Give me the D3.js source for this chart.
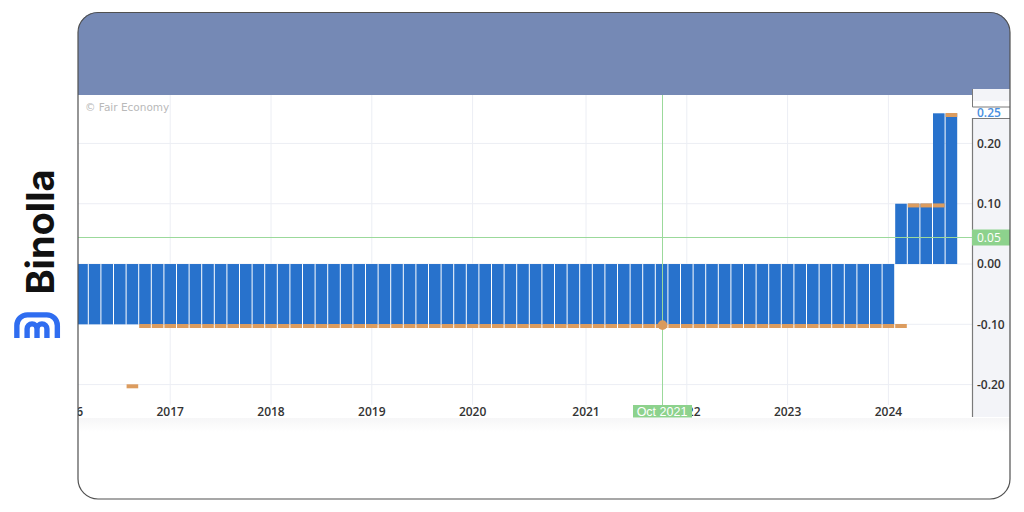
<!DOCTYPE html>
<html><head><meta charset="utf-8">
<script src="https://cdn.jsdelivr.net/npm/d3@7/dist/d3.min.js"></script>
<style>html,body{margin:0;padding:0;background:#fff;}svg{display:block;}</style>
</head><body>
<svg id="c" width="1024" height="512"></svg>
<script>
// Bank rate decisions (one bar per policy meeting)
const meetings = [
  "Jan 2016","Mar 2016","Apr 2016","Jun 2016","Jul 2016","Sep 2016","Nov 2016","Dec 2016",
  "Jan 2017","Mar 2017","Apr 2017","Jun 2017","Jul 2017","Sep 2017","Oct 2017","Dec 2017",
  "Jan 2018","Mar 2018","Apr 2018","Jun 2018","Jul 2018","Sep 2018","Oct 2018","Dec 2018",
  "Jan 2019","Mar 2019","Apr 2019","Jun 2019","Jul 2019","Sep 2019","Oct 2019","Dec 2019",
  "Jan 2020","Mar 2020","Apr 2020","May 2020","Jun 2020","Jul 2020","Sep 2020","Oct 2020","Dec 2020",
  "Jan 2021","Mar 2021","Apr 2021","Jun 2021","Jul 2021","Sep 2021","Oct 2021","Dec 2021",
  "Jan 2022","Mar 2022","Apr 2022","Jun 2022","Jul 2022","Sep 2022","Oct 2022","Dec 2022",
  "Jan 2023","Mar 2023","Apr 2023","Jun 2023","Jul 2023","Sep 2023","Oct 2023","Dec 2023",
  "Jan 2024","Mar 2024","Apr 2024","Jun 2024","Jul 2024","Sep 2024"
];
const actualValues = [
  -0.10,-0.10,-0.10,-0.10,-0.10,-0.10,-0.10,-0.10,
  -0.10,-0.10,-0.10,-0.10,-0.10,-0.10,-0.10,-0.10,
  -0.10,-0.10,-0.10,-0.10,-0.10,-0.10,-0.10,-0.10,
  -0.10,-0.10,-0.10,-0.10,-0.10,-0.10,-0.10,-0.10,
  -0.10,-0.10,-0.10,-0.10,-0.10,-0.10,-0.10,-0.10,-0.10,
  -0.10,-0.10,-0.10,-0.10,-0.10,-0.10,-0.10,-0.10,
  -0.10,-0.10,-0.10,-0.10,-0.10,-0.10,-0.10,-0.10,
  -0.10,-0.10,-0.10,-0.10,-0.10,-0.10,-0.10,-0.10,
  -0.10, 0.10, 0.10, 0.10, 0.25, 0.25
];
const forecastValues = [
  null,null,null,null,null,-0.20,-0.10,-0.10,
  -0.10,-0.10,-0.10,-0.10,-0.10,-0.10,-0.10,-0.10,
  -0.10,-0.10,-0.10,-0.10,-0.10,-0.10,-0.10,-0.10,
  -0.10,-0.10,-0.10,-0.10,-0.10,-0.10,-0.10,-0.10,
  -0.10,-0.10,-0.10,-0.10,-0.10,-0.10,-0.10,-0.10,-0.10,
  -0.10,-0.10,-0.10,-0.10,-0.10,-0.10,-0.10,-0.10,
  -0.10,-0.10,-0.10,-0.10,-0.10,-0.10,-0.10,-0.10,
  -0.10,-0.10,-0.10,-0.10,-0.10,-0.10,-0.10,-0.10,
  -0.10,-0.10, 0.10, 0.10, 0.10, 0.25
];
const yTickValues = [-0.20,-0.10,0.00,0.10,0.20];
const latestValue = 0.25;
const crosshairMeeting = "Oct 2021";
const crosshairValue = 0.045;
const crosshairLabel = "0.05";
const sourceLabel = "© Fair Economy";
const brandName = "Binolla";

const svg = d3.select("#c");
const L = 78, R = 972, T = 95, B = 405, CARD_R = 1010, CARD_B = 499;
const FONT = "'DejaVu Sans', Verdana, sans-serif";
const AXFONT = "'Open Sans', 'DejaVu Sans', sans-serif";
const fmt = v => d3.format(".2f")(v).replace("\u2212","-");

const defs = svg.append("defs");
defs.append("clipPath").attr("id","card").append("rect")
  .attr("x",L).attr("y",12).attr("width",CARD_R-L).attr("height",CARD_B-12).attr("rx",20);
defs.append("clipPath").attr("id","plot").append("rect")
  .attr("x",L).attr("y",T).attr("width",R-L).attr("height",B-T+14);
const g1 = defs.append("linearGradient").attr("id","shade").attr("x1",0).attr("y1",0).attr("x2",0).attr("y2",1);
g1.append("stop").attr("offset","0%").attr("stop-color","#f6f6f7");
g1.append("stop").attr("offset","100%").attr("stop-color","#ffffff");

const card = svg.append("g").attr("clip-path","url(#card)");
card.append("rect").attr("x",L).attr("y",12).attr("width",CARD_R-L).attr("height",CARD_B-12).attr("fill","#fff");
card.append("rect").attr("x",L).attr("y",12).attr("width",CARD_R-L).attr("height",T-12).attr("fill","#7589b5");
card.append("rect").attr("x",L).attr("y",B+13).attr("width",CARD_R-L).attr("height",14).attr("fill","url(#shade)");

// scales
const idx = d3.range(meetings.length);
const x = d3.scaleBand().domain(idx).range([63.1, 957.7]).paddingInner(0).paddingOuter(0);
const y = d3.scaleLinear().domain([-0.20, 0.25]).range([384.6, 113.3]);

const plot = card.append("g").attr("clip-path","url(#plot)");

// year tick indices (first meeting of each year)
const yearTicks = idx.filter(i => i === 0 || meetings[i].slice(-4) !== meetings[i-1].slice(-4));

// grid
plot.append("g").selectAll("line").data(yTickValues).join("line")
  .attr("x1",L).attr("x2",R).attr("y1",d=>y(d)).attr("y2",d=>y(d))
  .attr("stroke","#eceef4").attr("stroke-width",1);
plot.append("g").selectAll("line").data(yearTicks).join("line")
  .attr("x1",i=>x(i)+x.bandwidth()/2).attr("x2",i=>x(i)+x.bandwidth()/2)
  .attr("y1",T).attr("y2",B)
  .attr("stroke","#eceef4").attr("stroke-width",1);

// bars
plot.append("g").selectAll("rect").data(idx).join("rect")
  .attr("x",i=>x(i)+0.5).attr("width",x.bandwidth()-1)
  .attr("y",i=>Math.min(y(actualValues[i]),y(0)))
  .attr("height",i=>Math.abs(y(actualValues[i])-y(0)))
  .attr("fill","#2872cc");

// forecast markers
plot.append("g").selectAll("rect").data(idx.filter(i=>forecastValues[i]!==null)).join("rect")
  .attr("x",i=>x(i)+0.5).attr("width",x.bandwidth()-1)
  .attr("y",i=>y(forecastValues[i])-0.3).attr("height",4)
  .attr("fill","#dc9c5e");

// source text
card.append("text").attr("x",85).attr("y",111).attr("font-family",FONT).attr("font-size",10.5)
  .attr("fill","#b9b9b9").text(sourceLabel);

// x axis
const xAxis = d3.axisBottom(x).tickValues(yearTicks).tickFormat(i=>meetings[i].slice(-4)).tickSize(0).tickPadding(2.5);
const xg = plot.append("g").attr("transform",`translate(0,${B})`).call(xAxis);
xg.select(".domain").remove();
xg.selectAll("text").attr("font-family",AXFONT).attr("font-weight",600).attr("font-size",12).attr("fill","#333");

// right panel
card.append("rect").attr("x",R).attr("y",T-6).attr("width",CARD_R-R).attr("height",12).attr("fill","#f3f4f8");
card.append("path").attr("d",`M${R+0.5},${T-6}V${T+12}H${CARD_R}`).attr("fill","none").attr("stroke","#7a7a7a");
card.append("rect").attr("x",R).attr("y",118).attr("width",CARD_R-R).attr("height",B+12-118).attr("fill","#f3f4f8");
card.append("path").attr("d",`M${CARD_R},118.5H${R+0.5}V${B+12}`).attr("fill","none").attr("stroke","#7a7a7a").attr("stroke-width",1.2);

const yAxis = d3.axisRight(y).tickValues(yTickValues).tickFormat(fmt).tickSize(0).tickPadding(5);
const yg = card.append("g").attr("transform",`translate(${R},0)`).call(yAxis);
yg.select(".domain").remove();
yg.selectAll("text").attr("font-family",AXFONT).attr("font-weight",600).attr("font-size",12).attr("fill","#333");

card.append("text").attr("x",R+5).attr("y",y(latestValue)).attr("dy","0.32em")
  .attr("font-family",AXFONT).attr("font-weight",600).attr("font-size",12).attr("fill","#4a8fe0").text(fmt(latestValue));

// crosshair
const ci = meetings.indexOf(crosshairMeeting);
const cx = Math.round(x(ci) + x.bandwidth()/2) + 0.5;
const cy = Math.round(y(crosshairValue)) + 0.5;
card.append("line").attr("x1",L).attr("x2",R).attr("y1",cy).attr("y2",cy)
  .attr("stroke","#9bd99b").attr("stroke-width",1);
card.append("line").attr("x1",cx).attr("x2",cx).attr("y1",T).attr("y2",B+12)
  .attr("stroke","#9bd99b").attr("stroke-width",1);
card.append("circle").attr("cx",cx).attr("cy",y(forecastValues[ci])+0.8).attr("r",4.8).attr("fill","#d99a5c");

// crosshair labels
card.append("rect").attr("x",R).attr("y",cy-8).attr("width",CARD_R-R).attr("height",16).attr("fill","#8dd28d");
card.append("text").attr("x",R+5).attr("y",cy).attr("dy","0.35em")
  .attr("font-family",AXFONT).attr("font-size",12).attr("fill","#fff").text(crosshairLabel);
card.append("rect").attr("x",cx-29.5).attr("y",B).attr("width",59).attr("height",12.5).attr("fill","#8dd28d");
card.append("text").attr("x",cx-0.5).attr("y",B+6.5).attr("dy","0.35em").attr("text-anchor","middle")
  .attr("font-family","'Liberation Sans Narrow','Liberation Sans',Arial,sans-serif").attr("font-size",12.5)
  .attr("fill","#fff").text(crosshairMeeting);

// card border
svg.append("rect").attr("x",L).attr("y",12.5).attr("width",CARD_R-L).attr("height",CARD_B-12.5).attr("rx",20)
  .attr("fill","none").attr("stroke","#505050").attr("stroke-width",1.2);

// brand
svg.append("text").attr("transform","translate(54,232) rotate(-90)").attr("text-anchor","middle")
  .attr("font-family","Inter, 'DejaVu Sans', sans-serif").attr("font-weight",700).attr("font-size",38)
  .attr("fill","#111").text(brandName);
const logo = svg.append("g").attr("transform","translate(14,312) scale(1.68)")
  .attr("fill","none").attr("stroke","#2f6df0").attr("stroke-width",3.2).attr("stroke-linecap","butt");
logo.append("path").attr("d","M1.7,15.5V8A6.3,6.3 0 0 1 8,1.7H19.5A6.3,6.3 0 0 1 25.8,8V15.5");
logo.append("path").attr("d","M7.8,15.5V10A2.9,2.9 0 0 1 13.7,10V15.5M13.7,10A2.9,2.9 0 0 1 19.6,10V15.5");
</script>
</body></html>
